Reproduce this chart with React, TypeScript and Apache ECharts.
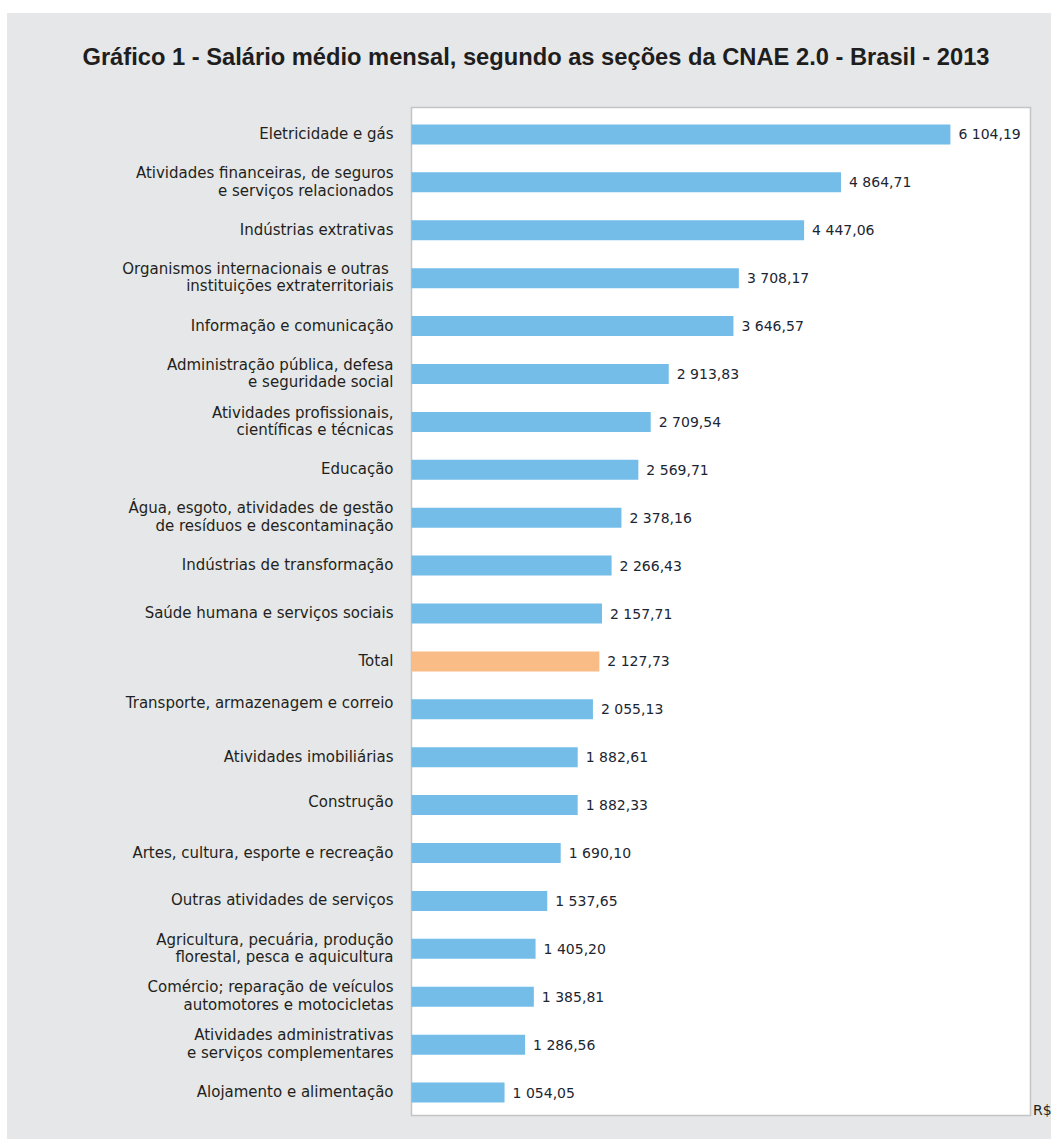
import React, { useEffect, useRef } from "react";
import * as echarts from "echarts";

const categories: string[] = [
  "Eletricidade e gás",
  "Atividades financeiras, de seguros\ne serviços relacionados",
  "Indústrias extrativas",
  "Organismos internacionais e outras \ninstituições extraterritoriais",
  "Informação e comunicação",
  "Administração pública, defesa\ne seguridade social",
  "Atividades profissionais,\ncientíficas e técnicas",
  "Educação",
  "Água, esgoto, atividades de gestão\nde resíduos e descontaminação",
  "Indústrias de transformação",
  "Saúde humana e serviços sociais",
  "Total",
  "Transporte, armazenagem e correio",
  "Atividades imobiliárias",
  "Construção",
  "Artes, cultura, esporte e recreação",
  "Outras atividades de serviços",
  "Agricultura, pecuária, produção\nflorestal, pesca e aquicultura",
  "Comércio; reparação de veículos\nautomotores e motocicletas",
  "Atividades administrativas\ne serviços complementares",
  "Alojamento e alimentação",
];

const values: number[] = [
  6104.19, 4864.71, 4447.06, 3708.17, 3646.57, 2913.83, 2709.54, 2569.71,
  2378.16, 2266.43, 2157.71, 2127.73, 2055.13, 1882.61, 1882.33, 1690.1,
  1537.65, 1405.2, 1385.81, 1286.56, 1054.05,
];

const highlightCategory = "Total";
const title =
  "Gráfico 1 - Salário médio mensal, segundo as seções da CNAE 2.0 - Brasil - 2013";
const unitLabel = "R$";

// label styling keys (visual only)
const raisedLabels: Record<string, string> = {
  "Transporte, armazenagem e correio": "u2",
  "Construção": "u1",
};

const BLUE = "#74bde8";
const ORANGE = "#f9bc86";
const TEXT = "#231f20";
const FONT = "DejaVu Sans";

function fmt(v: number): string {
  const [int, dec] = v.toFixed(2).split(".");
  const withSpaces = int.replace(/\B(?=(\d{3})+(?!\d))/g, " ");
  return withSpaces + "," + dec;
}

export default function App() {
  const ref = useRef<HTMLDivElement>(null);

  useEffect(() => {
    if (!ref.current) return;
    const chart = echarts.init(ref.current, undefined, { renderer: "svg" });
    const baseText = {
      fontFamily: FONT,
      fontSize: 15,
      color: TEXT,
      lineHeight: 17.5,
    };
    chart.setOption({
      animation: false,
      backgroundColor: "#ffffff",
      graphic: [
        {
          type: "rect",
          z: -10,
          silent: true,
          shape: { x: 7, y: 13, width: 1051 - 7, height: 1139 - 13 },
          style: { fill: "#e6e7e8" },
        },
        {
          type: "rect",
          z: -9,
          silent: true,
          shape: { x: 411.5, y: 107.5, width: 619, height: 1008 },
          style: { fill: "#ffffff", stroke: "#c4c4c4", lineWidth: 1.5 },
        },
        {
          type: "text",
          z: 10,
          x: 536,
          y: 57,
          style: {
            text: title,
            fontFamily: "Liberation Sans",
            fontWeight: "bold",
            fontSize: 23.7,
            fill: "#1e1e1e",
            align: "center",
            verticalAlign: "middle",
          },
        },
        {
          type: "text",
          z: 10,
          x: 1033,
          y: 1110,
          style: {
            text: unitLabel,
            fontFamily: FONT,
            fontSize: 14,
            fill: TEXT,
            align: "left",
            verticalAlign: "middle",
          },
        },
      ],
      grid: {
        left: 411.5,
        top: 110.5,
        width: 618,
        height: 1006,
        containLabel: false,
      },
      xAxis: {
        type: "value",
        min: 0,
        max: 7000,
        show: false,
        splitLine: { show: false },
      },
      yAxis: {
        type: "category",
        inverse: true,
        data: categories,
        axisLine: { show: false },
        axisTick: { show: false },
        axisLabel: {
          margin: 18,
          align: "right",
          formatter: (val: string) => {
            const key = raisedLabels[val] || "n";
            return val
              .split("\n")
              .map((l) => `{${key}|${l}}`)
              .join("\n");
          },
          rich: {
            n: { ...baseText, padding: [0, 0, 1, 0] },
            u1: { ...baseText, padding: [0, 0, 7, 0] },
            u2: { ...baseText, padding: [0, 0, 13, 0] },
          },
        },
      },
      series: [
        {
          type: "bar",
          z: 2,
          barWidth: 20,
          data: values.map((v, i) => ({
            value: v,
            itemStyle: {
              color: categories[i] === highlightCategory ? ORANGE : BLUE,
            },
          })),
          label: {
            show: true,
            position: "right",
            distance: 8,
            fontFamily: FONT,
            fontSize: 14,
            color: "#1c2532",
            formatter: (p: any) => fmt(p.value),
          },
        },
      ],
    });
    return () => chart.dispose();
  }, []);

  return (
    <div
      ref={ref}
      style={{ position: "absolute", left: 0, top: 0, width: 1051, height: 1139 }}
    />
  );
}
